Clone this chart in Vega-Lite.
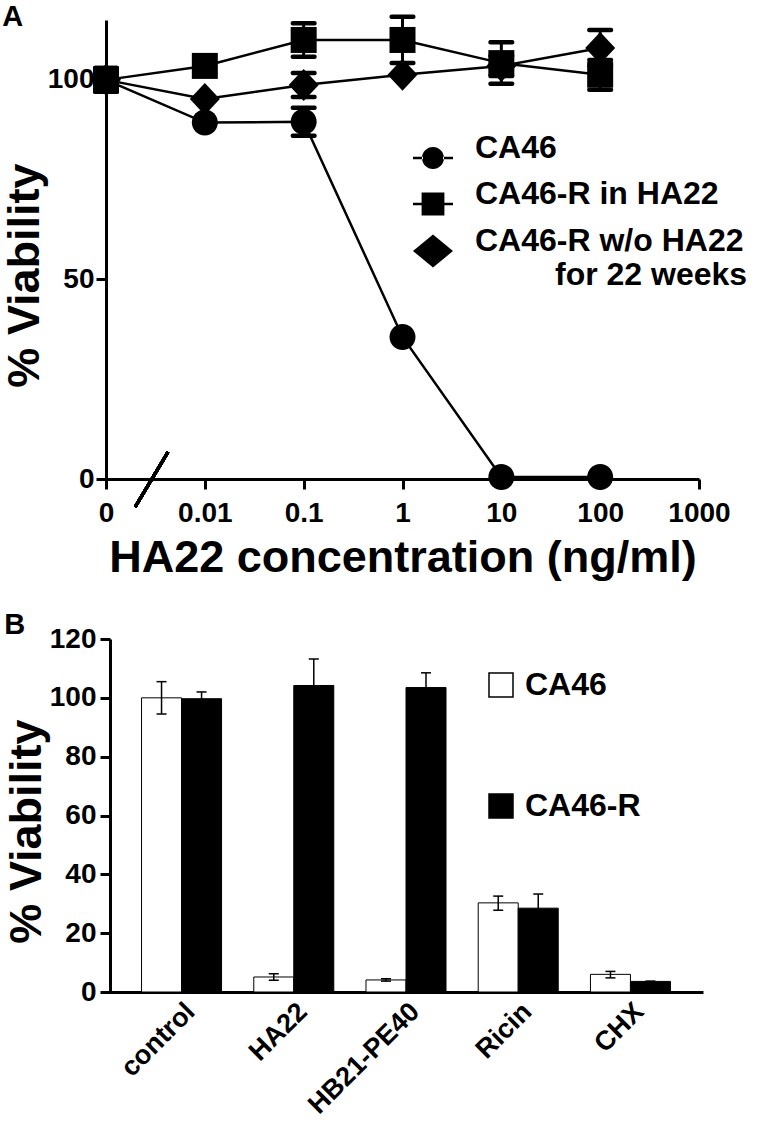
{
  "$schema": "https://vega.github.io/schema/vega-lite/v6.json",
  "padding": {"left": 2, "top": 2, "right": 0, "bottom": 0},
  "spacing": 31,
  "config": {
    "font": "Liberation Sans",
    "view": {"stroke": null},
    "axis": {
      "labelFont": "Liberation Sans", "labelFontWeight": "bold", "labelColor": "black",
      "titleFont": "Liberation Sans", "titleFontWeight": "bold", "titleColor": "black",
      "domainColor": "black", "tickColor": "black", "grid": false,
      "domainWidth": 3, "tickWidth": 3, "tickSize": 10
    },
    "legend": {
      "labelFont": "Liberation Sans", "labelFontWeight": "bold", "labelColor": "black",
      "padding": 0, "title": null
    },
    "title": {"font": "Liberation Sans", "fontWeight": "bold", "color": "black"}
  },
  "vconcat": [
    {
      "title": {"text": "A", "anchor": "start", "frame": "bounds", "fontSize": 29, "offset": -17},
      "width": 593,
      "height": 459,
      "data": {"values": [
        {"series": "CA46", "conc": "0", "v": 100, "lo": 97, "hi": 103},
        {"series": "CA46", "conc": "0.01", "v": 89.3, "lo": 89.3, "hi": 89.3},
        {"series": "CA46", "conc": "0.1", "v": 89.5, "lo": 86, "hi": 93},
        {"series": "CA46", "conc": "1", "v": 35.6, "lo": 35.6, "hi": 35.6},
        {"series": "CA46", "conc": "10", "v": 0.5, "lo": 0.5, "hi": 0.5},
        {"series": "CA46", "conc": "100", "v": 0.5, "lo": 0.5, "hi": 0.5},
        {"series": "CA46-R in HA22", "conc": "0", "v": 100, "lo": 97, "hi": 103},
        {"series": "CA46-R in HA22", "conc": "0.01", "v": 103.5, "lo": 103.5, "hi": 103.5},
        {"series": "CA46-R in HA22", "conc": "0.1", "v": 110, "lo": 105.8, "hi": 114.2},
        {"series": "CA46-R in HA22", "conc": "1", "v": 110, "lo": 104.2, "hi": 115.8},
        {"series": "CA46-R in HA22", "conc": "10", "v": 104.2, "lo": 99, "hi": 109.4},
        {"series": "CA46-R in HA22", "conc": "100", "v": 101.3, "lo": 97.5, "hi": 105},
        {"series": "CA46-R w/o HA22 for 22 weeks", "conc": "0", "v": 100, "lo": 98, "hi": 102},
        {"series": "CA46-R w/o HA22 for 22 weeks", "conc": "0.01", "v": 95.2, "lo": 95.2, "hi": 95.2},
        {"series": "CA46-R w/o HA22 for 22 weeks", "conc": "0.1", "v": 98.7, "lo": 95.7, "hi": 101.7},
        {"series": "CA46-R w/o HA22 for 22 weeks", "conc": "1", "v": 101.3, "lo": 101.3, "hi": 101.3},
        {"series": "CA46-R w/o HA22 for 22 weeks", "conc": "10", "v": 103.5, "lo": 101, "hi": 106},
        {"series": "CA46-R w/o HA22 for 22 weeks", "conc": "100", "v": 108, "lo": 103.5, "hi": 112.5}
      ]},
      "encoding": {
        "x": {
          "field": "conc", "type": "ordinal",
          "scale": {"type": "point", "padding": 0, "domain": ["0", "0.01", "0.1", "1", "10", "100", "1000"]},
          "axis": {"labelAngle": 0, "labelFontSize": 28, "labelPadding": 10, "title": "HA22 concentration (ng/ml)", "titleFontSize": 45, "titlePadding": 8}
        },
        "y": {
          "field": "v", "type": "quantitative",
          "scale": {"domain": [0, 115], "nice": false},
          "axis": {"values": [0, 50, 100], "labelFontSize": 28, "labelPadding": 2, "title": "% Viability", "titleFontSize": 45, "titlePadding": 0, "titleY": 255}
        }
      },
      "layer": [
        {
          "mark": {"type": "line", "color": "black", "strokeWidth": 2.5},
          "encoding": {"detail": {"field": "series"}}
        },
        {
          "transform": [{"filter": "datum.hi > datum.lo"}],
          "mark": {"type": "rule", "color": "black", "strokeWidth": 3},
          "encoding": {"y": {"field": "lo", "type": "quantitative"}, "y2": {"field": "hi"}}
        },
        {
          "transform": [{"filter": "datum.hi > datum.lo"}],
          "mark": {"type": "tick", "color": "black", "opacity": 1, "size": 26, "thickness": 4.5, "cornerRadius": 2},
          "encoding": {"y": {"field": "lo", "type": "quantitative"}}
        },
        {
          "transform": [{"filter": "datum.hi > datum.lo"}],
          "mark": {"type": "tick", "color": "black", "opacity": 1, "size": 26, "thickness": 4.5, "cornerRadius": 2},
          "encoding": {"y": {"field": "hi", "type": "quantitative"}}
        },
        {
          "mark": {"type": "point", "filled": true, "color": "black", "size": 1600, "opacity": 1},
          "encoding": {
            "shape": {
              "field": "series", "type": "nominal", "legend": null,
              "scale": {
                "domain": ["CA46", "CA46-R in HA22", "CA46-R w/o HA22 for 22 weeks"],
                "range": [
                  "M-0.65,0A0.65,0.65,0,1,0,0.65,0A0.65,0.65,0,1,0,-0.65,0Z",
                  "M-0.65,-0.65H0.65V0.65H-0.65Z",
                  "M-0.75,0L0,-0.8L0.75,0L0,0.8Z"
                ]
              }
            }
          }
        },
        {
          "transform": [{"filter": "false"}],
          "mark": {"type": "point", "filled": true, "color": "black", "size": 1600, "opacity": 1},
          "encoding": {
            "shape": {
              "field": "series", "type": "nominal",
              "scale": {
                "domain": ["CA46", "CA46-R in HA22", "CA46-R w/o HA22 for 22 weeks"],
                "range": [
                  "M-0.55,0A0.55,0.55,0,1,0,0.55,0A0.55,0.55,0,1,0,-0.55,0Z M-1,-0.06H-0.5V0.06H-1Z M0.5,-0.06H1V0.06H0.5Z",
                  "M-0.57,-0.57H0.57V0.57H-0.57Z M-1,-0.06H-0.55V0.06H-1Z M0.55,-0.06H1V0.06H0.55Z",
                  "M-1,0L0,-0.82L1,0L0,0.82Z"
                ]
              },
              "legend": {
                "orient": "none", "legendX": 307, "legendY": 118,
                "symbolSize": 1600, "symbolFillColor": "black", "symbolStrokeWidth": 0,
                "labelFontSize": 32, "labelOffset": 22, "rowPadding": 9,
                "labelBaseline": "alphabetic", "labelLimit": 400,
                "labelExpr": "datum.label == 'CA46-R w/o HA22 for 22 weeks' ? ['CA46-R w/o HA22', '\u200b\u00a0\u00a0\u00a0\u00a0\u00a0\u00a0\u00a0\u00a0\u00a0for 22 weeks'] : datum.label",
                "encode": {"labels": {"update": {"dy": {"value": 11}, "lineHeight": {"value": 42}}}}
              }
            }
          }
        },
        {
          "mark": {"type": "point", "shape": "M0.94,0.9L2,-0.87", "filled": false, "stroke": "black", "strokeWidth": 3, "size": 3844, "opacity": 1},
          "encoding": {"x": {"datum": "0"}, "y": {"datum": 0}}
        }
      ],
      "resolve": {"scale": {"shape": "independent"}}
    },
    {
      "title": {"text": "B", "anchor": "start", "frame": "bounds", "fontSize": 29, "offset": -15},
      "width": 594,
      "height": 353,
      "data": {"values": [
        {"treatment": "control", "cell": "CA46", "v": 100, "lo": 94.5, "hi": 105.5},
        {"treatment": "control", "cell": "CA46-R", "v": 99.7, "lo": 97.4, "hi": 102},
        {"treatment": "HA22", "cell": "CA46", "v": 5.1, "lo": 4, "hi": 6.2},
        {"treatment": "HA22", "cell": "CA46-R", "v": 104.2, "lo": 95.2, "hi": 113.2},
        {"treatment": "HB21-PE40", "cell": "CA46", "v": 4.1, "lo": 3.7, "hi": 4.5},
        {"treatment": "HB21-PE40", "cell": "CA46-R", "v": 103.5, "lo": 98.5, "hi": 108.5},
        {"treatment": "Ricin", "cell": "CA46", "v": 30.3, "lo": 27.8, "hi": 32.6},
        {"treatment": "Ricin", "cell": "CA46-R", "v": 28.5, "lo": 23.7, "hi": 33.3},
        {"treatment": "CHX", "cell": "CA46", "v": 6.0, "lo": 4.8, "hi": 7.0},
        {"treatment": "CHX", "cell": "CA46-R", "v": 3.6, "lo": 3.5, "hi": 3.7}
      ]},
      "encoding": {
        "x": {
          "field": "treatment", "type": "nominal",
          "sort": ["control", "HA22", "HB21-PE40", "Ricin", "CHX"],
          "scale": {"paddingInner": 0.287, "paddingOuter": 0.29, "range": [3, 597]},
          "axis": {"labelAngle": -45, "labelFontSize": 27, "labelPadding": 6, "ticks": false, "title": null}
        },
        "xOffset": {"field": "cell", "type": "nominal", "sort": ["CA46", "CA46-R"], "scale": {"paddingInner": 0, "paddingOuter": 0}},
        "y": {
          "field": "v", "type": "quantitative",
          "scale": {"domain": [0, 120], "nice": false},
          "axis": {"values": [0, 20, 40, 60, 80, 100, 120], "offset": -4, "labelFontSize": 28, "labelPadding": 4, "title": "% Viability", "titleFontSize": 45, "titlePadding": 0, "titleY": 192}
        }
      },
      "layer": [
        {
          "mark": {"type": "bar", "stroke": "black", "strokeWidth": 1},
          "encoding": {
            "fill": {
              "field": "cell", "type": "nominal",
              "scale": {"domain": ["CA46", "CA46-R"], "range": ["white", "black"]},
              "legend": {
                "orient": "none", "legendX": 379, "legendY": 649,
                "symbolType": "square", "symbolSize": 576, "symbolStrokeColor": "black", "symbolStrokeWidth": 1.5,
                "labelFontSize": 32, "labelOffset": 8, "rowPadding": 89
              }
            }
          }
        },
        {
          "mark": {"type": "rule", "color": "black", "strokeWidth": 1.5},
          "encoding": {"y": {"field": "lo", "type": "quantitative"}, "y2": {"field": "hi"}}
        },
        {
          "mark": {"type": "tick", "color": "black", "opacity": 1, "size": 10, "thickness": 1.5},
          "encoding": {"y": {"field": "lo", "type": "quantitative"}}
        },
        {
          "mark": {"type": "tick", "color": "black", "opacity": 1, "size": 10, "thickness": 1.5},
          "encoding": {"y": {"field": "hi", "type": "quantitative"}}
        }
      ]
    }
  ]
}
